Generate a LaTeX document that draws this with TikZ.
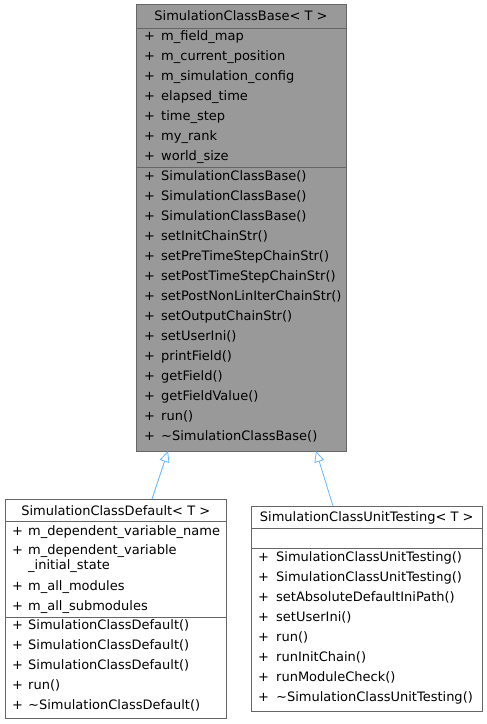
\documentclass[tikz,border=0pt]{standalone}
\usepackage{fontspec}
\setmainfont{DejaVu Sans}
\usetikzlibrary{arrows.meta}
\definecolor{boxline}{HTML}{666666}
\definecolor{basefill}{HTML}{999999}
\definecolor{edgeblue}{HTML}{63B8FF}

\begin{document}
\begin{tikzpicture}[x=1pt,y=-1pt,
  classbox/.style={draw=boxline,line width=1pt,inner sep=0pt,outer sep=0pt},
  sep/.style={draw=boxline,line width=1pt},
  member/.style={anchor=west,inner sep=0pt,text height=9.5pt,text depth=0pt,font=\fontsize{13}{15}\selectfont},
  title/.style={member,anchor=center},
  inherit/.style={draw=edgeblue,line width=0.8pt,-{Triangle[open,length=11pt,width=10pt]}}]

\useasboundingbox (0,0) rectangle (487,724);

% base class
\node[classbox,fill=basefill,minimum width=210pt,minimum height=446.5pt] (base) at (241,227.75) {};
\node[title] (basetitle) at (241,16) {SimulationClassBase< T >};
\draw[sep] (136,28) -- (346,28);
\draw[sep] (136,167.5) -- (346,167.5);
\foreach \t [count=\i] in {m\_field\_map,m\_current\_position,m\_simulation\_config,
    elapsed\_time,time\_step,my\_rank,world\_size}{
  \node[member] (bp\i) at (144,16+20*\i) {+};
  \node[member] (ba\i) at (161,16+20*\i) {\t};
}
\foreach \t [count=\i] in {SimulationClassBase(),SimulationClassBase(),SimulationClassBase(),
    setInitChainStr(),setPreTimeStepChainStr(),setPostTimeStepChainStr(),
    setPostNonLinIterChainStr(),setOutputChainStr(),setUserIni(),printField(),
    getField(),getFieldValue(),run(),\textasciitilde SimulationClassBase()}{
  \node[member] (bq\i) at (144,156+20*\i) {+};
  \node[member] (bm\i) at (161,156+20*\i) {\t};
}

% default
\node[classbox,fill=white,minimum width=221.5pt,minimum height=219pt] (def) at (115.75,608.5) {};
\node[title] (deftitle) at (115.75,511) {SimulationClassDefault< T >};
\draw[sep] (5,521) -- (226.5,521);
\draw[sep] (5,617) -- (226.5,617);
\node[member] (dp1) at (12,531) {+};
\node[member] (da1) at (28,531) {m\_dependent\_variable\_name};
\node[member] (dp2) at (12,550) {+};
\node[member] (da2) at (28,550) {m\_dependent\_variable};
\node[member] (da2b) at (28,565) {\_initial\_state};
\node[member] (dp3) at (12,586) {+};
\node[member] (da3) at (28,586) {m\_all\_modules};
\node[member] (dp4) at (12,606) {+};
\node[member] (da4) at (28,606) {m\_all\_submodules};
\foreach \t [count=\i] in {SimulationClassDefault(),SimulationClassDefault(),
    SimulationClassDefault(),run(),\textasciitilde SimulationClassDefault()}{
  \node[member] (dq\i) at (12,605+20*\i) {+};
  \node[member] (dm\i) at (28,605+20*\i) {\t};
}

% unit testing
\node[classbox,fill=white,minimum width=231.5pt,minimum height=205pt] (ut) at (366.75,608.5) {};
\node[title] (uttitle) at (366.75,517) {SimulationClassUnitTesting< T >};
\draw[sep] (251,528.5) -- (482.5,528.5);
\draw[sep] (251,548.5) -- (482.5,548.5);
\foreach \t [count=\i] in {SimulationClassUnitTesting(),SimulationClassUnitTesting(),
    setAbsoluteDefaultIniPath(),setUserIni(),run(),runInitChain(),runModuleCheck(),
    \textasciitilde SimulationClassUnitTesting()}{
  \node[member] (uq\i) at (258,537+20*\i) {+};
  \node[member] (um\i) at (276,537+20*\i) {\t};
}

\draw[inherit] ([xshift=36.25pt]def.north) -- ([xshift=-73pt]base.south);
\draw[inherit] ([xshift=-33.75pt]ut.north) -- ([xshift=75pt]base.south);
\end{tikzpicture}
\end{document}
